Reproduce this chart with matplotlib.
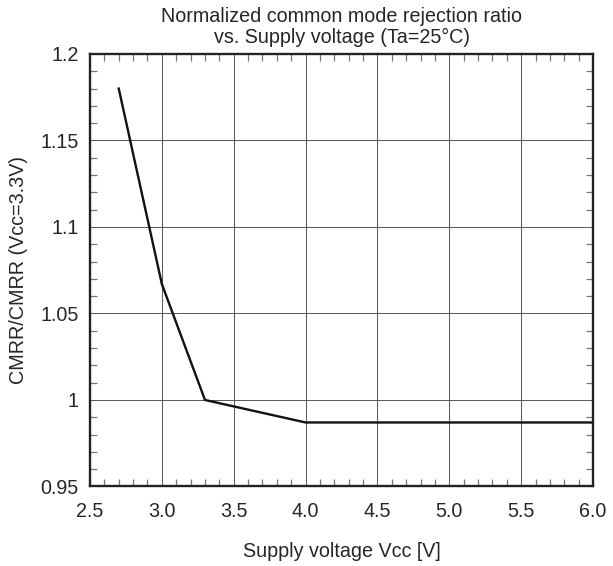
import matplotlib
matplotlib.use("Agg")
import matplotlib.pyplot as plt
from matplotlib.ticker import MultipleLocator, FixedFormatter, FixedLocator

plt.rcParams["font.family"] = ["Liberation Sans", "DejaVu Sans"]

vcc = [2.7, 3.0, 3.3, 4.0, 6.0]
cmrr_norm = [1.18, 1.067, 1.0, 0.987, 0.987]

x_ticks = [2.5, 3.0, 3.5, 4.0, 4.5, 5.0, 5.5, 6.0]
x_labels = ["2.5", "3.0", "3.5", "4.0", "4.5", "5.0", "5.5", "6.0"]
y_ticks = [0.95, 1.0, 1.05, 1.1, 1.15, 1.2]
y_labels = ["0.95", "1", "1.05", "1.1", "1.15", "1.2"]

FS = 14.2

fig = plt.figure(figsize=(6.13, 5.66), dpi=100)
ax = fig.add_axes([0.1468, 0.1405, 0.9675 - 0.1468, 0.9046 - 0.1405])

ax.plot(vcc, cmrr_norm, color="#111111", linewidth=1.7, zorder=3)

ax.set_xlim(2.5, 6.0)
ax.set_ylim(0.95, 1.2)
ax.xaxis.set_major_locator(FixedLocator(x_ticks))
ax.xaxis.set_major_formatter(FixedFormatter(x_labels))
ax.yaxis.set_major_locator(FixedLocator(y_ticks))
ax.yaxis.set_major_formatter(FixedFormatter(y_labels))
ax.xaxis.set_minor_locator(MultipleLocator(0.1))
ax.yaxis.set_minor_locator(MultipleLocator(0.01))

ax.grid(True, which="major", color="#555555", linewidth=0.7)
ax.tick_params(which="both", direction="in", top=True, right=True,
               color="#777777", labelsize=FS, labelcolor="#262626")
ax.tick_params(axis="x", which="both", pad=11)
ax.tick_params(axis="y", which="both", pad=8)
ax.tick_params(which="major", length=0)
ax.tick_params(which="minor", length=5, width=0.9)
for s in ax.spines.values():
    s.set_linewidth(1.7)
    s.set_color("#222222")

ax.set_title("Normalized common mode rejection ratio\nvs. Supply voltage (Ta=25°C)",
             fontsize=FS, color="#262626", linespacing=1.1, pad=8)
ax.set_xlabel("Supply voltage Vcc [V]", fontsize=FS, color="#262626", labelpad=15)
ax.set_ylabel("CMRR/CMRR (Vcc=3.3V)", fontsize=FS, color="#262626", labelpad=9)

fig.savefig("out.png", dpi=100)
